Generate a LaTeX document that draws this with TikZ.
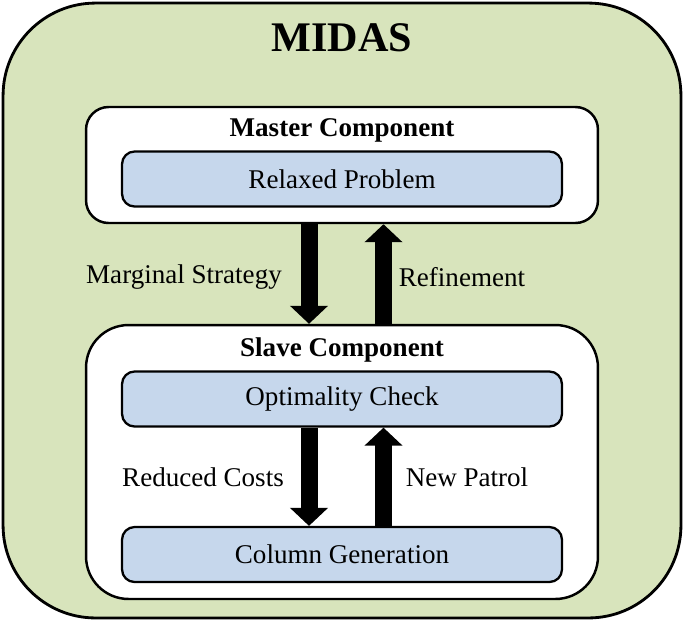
\documentclass[tikz,border=0pt]{standalone}
\usepackage{fontspec}
\setmainfont{Liberation Serif}
\usetikzlibrary{arrows.meta}
\definecolor{midasgreen}{RGB}{216,228,188}
\definecolor{boxblue}{RGB}{198,215,236}
\begin{document}
\begin{tikzpicture}[x=0.02cm, y=-0.02cm]
      \tikzset{outerbox/.style={draw, line width=1.6pt, fill=midasgreen, rounded corners=1.85cm, minimum width=13.56cm, minimum height=12.3cm},
               compbox/.style={draw, line width=1.4pt, fill=white, minimum width=10.24cm},
               taskbox/.style={draw, line width=1.3pt, fill=boxblue, rounded corners=0.25cm, minimum width=8.8cm, minimum height=1.1cm, font=\fontsize{15.4}{18}\selectfont},
               lbl/.style={font=\fontsize{15.4}{18}\selectfont},
               title/.style={font=\bfseries\fontsize{15.4}{18}\selectfont},
               blockarrow/.style={line width=0.34cm, -{Triangle[width=0.74cm, length=0.36cm]}}}
      \useasboundingbox (0,0) rectangle (685,623);
%% Boxes
	%outer
      	\node[outerbox] (midas) at (342,310.5) {};
      	\node[font=\bfseries\fontsize{24}{28}\selectfont] (midastitle) at (342,38) {MIDAS};
	%master
      	\node[compbox, rounded corners=0.45cm, minimum height=2.32cm] (master) at (342,165) {};
      	\node[title] (mastertitle) at (342,130) {Master Component};
      	\node[taskbox] (relaxed) at (342,179) {Relaxed Problem};
	%slave
      	\node[compbox, rounded corners=0.85cm, minimum height=5.48cm] (slave) at (342,462) {};
      	\node[title] (slavetitle) at (342,350) {Slave Component};
      	\node[taskbox] (optimal) at (342,399) {Optimality Check};
      	\node[taskbox] (colgen) at (342,554.5) {Column Generation};
%% Arrows
      	\coordinate (down) at (309,0);
      	\coordinate (up) at (383.5,0);
		\draw[blockarrow] (master.south -| down) -- (slave.north -| down);
		\draw[blockarrow] (slave.north -| up) -- (master.south -| up);
		\draw[blockarrow] (optimal.south -| down) -- (colgen.north -| down);
		\draw[blockarrow] (colgen.north -| up) -- (optimal.south -| up);
%% Labels
      	\node[lbl] (marginal) at (184,277) {Marginal Strategy};
      	\node[lbl] (refine) at (462,277) {Refinement};
      	\node[lbl] (reduced) at (203,477) {Reduced Costs};
      	\node[lbl] (patrol) at (467,477) {New Patrol};

\end{tikzpicture}
\end{document}
